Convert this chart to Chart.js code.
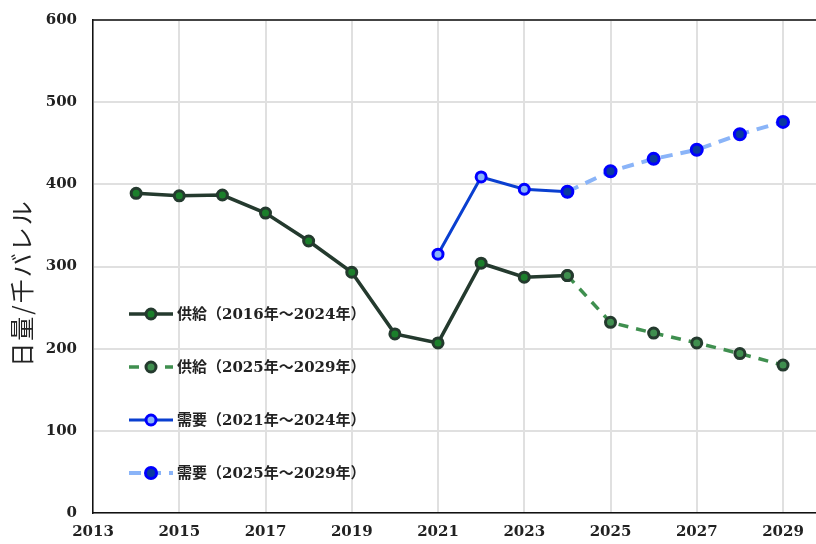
<!DOCTYPE html>
<html lang="ja">
<head>
<meta charset="UTF-8">
<title>供給と需要</title>
<script src="https://cdn.jsdelivr.net/npm/chart.js"></script>
<style>
  html, body { margin: 0; padding: 0; background: #fff; overflow: hidden; }
  canvas { display: block; }
</style>
</head>
<body>
<canvas id="chart" width="816" height="544"></canvas>
<script>
// values (thousand barrels / day)
const supplyYears = [2014, 2015, 2016, 2017, 2018, 2019, 2020, 2021, 2022, 2023, 2024];
const supplyValues = [389, 386, 387, 365, 331, 293, 218, 207, 304, 287, 289];
const supplyFcYears = [2024, 2025, 2026, 2027, 2028, 2029];
const supplyFcValues = [289, 232, 219, 207, 194, 180];
const demandYears = [2021, 2022, 2023, 2024];
const demandValues = [315, 409, 394, 391];
const demandFcYears = [2024, 2025, 2026, 2027, 2028, 2029];
const demandFcValues = [391, 416, 431, 442, 461, 476];
const seriesNames = ['供給（2016年～2024年）', '供給（2025年～2029年）', '需要（2021年～2024年）', '需要（2025年～2029年）'];
const xTickYears = [2013, 2015, 2017, 2019, 2021, 2023, 2025, 2027, 2029];
const yTitle = '日量/千バレル';

const pts = (xs, ys) => xs.map((x, i) => ({ x: x, y: ys[i] }));

const tickFont = { family: "'DejaVu Serif', serif", size: 15, weight: 'bold' };

// frame line on top of the plot area + y title
const framePlugin = {
  id: 'frame',
  afterDraw(chart) {
    const { ctx, chartArea } = chart;
    ctx.save();
    ctx.strokeStyle = '#111';
    ctx.lineWidth = 1.5;
    ctx.beginPath();
    ctx.moveTo(chartArea.left, chartArea.top);
    ctx.lineTo(chartArea.right, chartArea.top);
    ctx.stroke();

    ctx.translate(22, 283);
    ctx.rotate(-Math.PI / 2);
    ctx.font = "24px 'Noto Sans CJK JP', sans-serif";
    ctx.letterSpacing = '2px';
    ctx.fillStyle = '#222';
    ctx.textAlign = 'center';
    ctx.textBaseline = 'middle';
    ctx.fillText(yTitle, 0, 0);
    ctx.restore();
  }
};

// legend drawn inside the plot, line + marker sample
const legendPlugin = {
  id: 'innerLegend',
  afterDatasetsDraw(chart) {
    const { ctx } = chart;
    const rows = [314, 367, 420, 473];
    ctx.save();
    chart.data.datasets.forEach((ds, i) => {
      const y = rows[i];
      ctx.strokeStyle = ds.borderColor;
      ctx.lineWidth = ds.borderWidth;
      ctx.setLineDash(ds.borderDash || []);
      ctx.beginPath();
      ctx.moveTo(129, y);
      ctx.lineTo(173, y);
      ctx.stroke();
      ctx.setLineDash([]);
      ctx.beginPath();
      ctx.arc(151, y, ds.pointRadius, 0, Math.PI * 2);
      ctx.fillStyle = ds.pointBackgroundColor;
      ctx.fill();
      ctx.lineWidth = ds.pointBorderWidth;
      ctx.strokeStyle = ds.pointBorderColor;
      ctx.stroke();
      ctx.font = "bold 15px 'DejaVu Serif', 'Noto Sans CJK JP', serif";
      ctx.fillStyle = '#222';
      ctx.textAlign = 'left';
      ctx.textBaseline = 'middle';
      ctx.fillText(ds.label, 177, y + 1);
    });
    ctx.restore();
  }
};

new Chart(document.getElementById('chart'), {
  type: 'line',
  data: {
    datasets: [
      {
        label: seriesNames[0],
        data: pts(supplyYears, supplyValues),
        borderColor: '#243a2e', borderWidth: 3.5,
        pointBackgroundColor: '#1b7f2b', pointBorderColor: '#243a2e',
        pointRadius: 5, pointBorderWidth: 3, order: 4
      },
      {
        label: seriesNames[1],
        data: pts(supplyFcYears, supplyFcValues),
        borderColor: '#3f8f4f', borderWidth: 3.5, borderDash: [10, 8],
        pointBackgroundColor: '#3f8f4f', pointBorderColor: '#243a2e',
        pointRadius: 5, pointBorderWidth: 3, order: 2
      },
      {
        label: seriesNames[2],
        data: pts(demandYears, demandValues),
        borderColor: '#0a3fd0', borderWidth: 3,
        pointBackgroundColor: '#8ab4f8', pointBorderColor: '#0000ff',
        pointRadius: 5, pointBorderWidth: 3, order: 3
      },
      {
        label: seriesNames[3],
        data: pts(demandFcYears, demandFcValues),
        borderColor: '#8ab4f8', borderWidth: 4, borderDash: [12, 8],
        pointBackgroundColor: '#0a3aa0', pointBorderColor: '#0000ff',
        pointRadius: 5.5, pointBorderWidth: 3, order: 1
      }
    ]
  },
  options: {
    responsive: false,
    animation: false,
    layout: { autoPadding: false, padding: { top: 20, right: 0, left: 0, bottom: 0 } },
    plugins: { legend: { display: false }, tooltip: { enabled: false } },
    scales: {
      x: {
        type: 'linear',
        min: 2013,
        max: 2029.765,
        afterBuildTicks: (scale) => { scale.ticks = xTickYears.map(v => ({ value: v })); },
        afterFit: (scale) => { scale.height = 31; scale.paddingLeft = 0; scale.paddingRight = 0; },
        ticks: { font: tickFont, color: '#222', padding: 10, maxRotation: 0, callback: v => String(v) },
        grid: { color: '#e0e0e0', lineWidth: 2, drawTicks: false },
        border: { color: '#111', width: 1.5 }
      },
      y: {
        min: 0,
        max: 600,
        afterFit: (scale) => { scale.width = 93; scale.paddingTop = 0; scale.paddingBottom = 0; },
        ticks: { stepSize: 100, font: tickFont, color: '#222', padding: 16 },
        grid: { color: '#e0e0e0', lineWidth: 2, drawTicks: false },
        border: { color: '#111', width: 1.5 }
      }
    }
  },
  plugins: [framePlugin, legendPlugin]
});
</script>
</body>
</html>
